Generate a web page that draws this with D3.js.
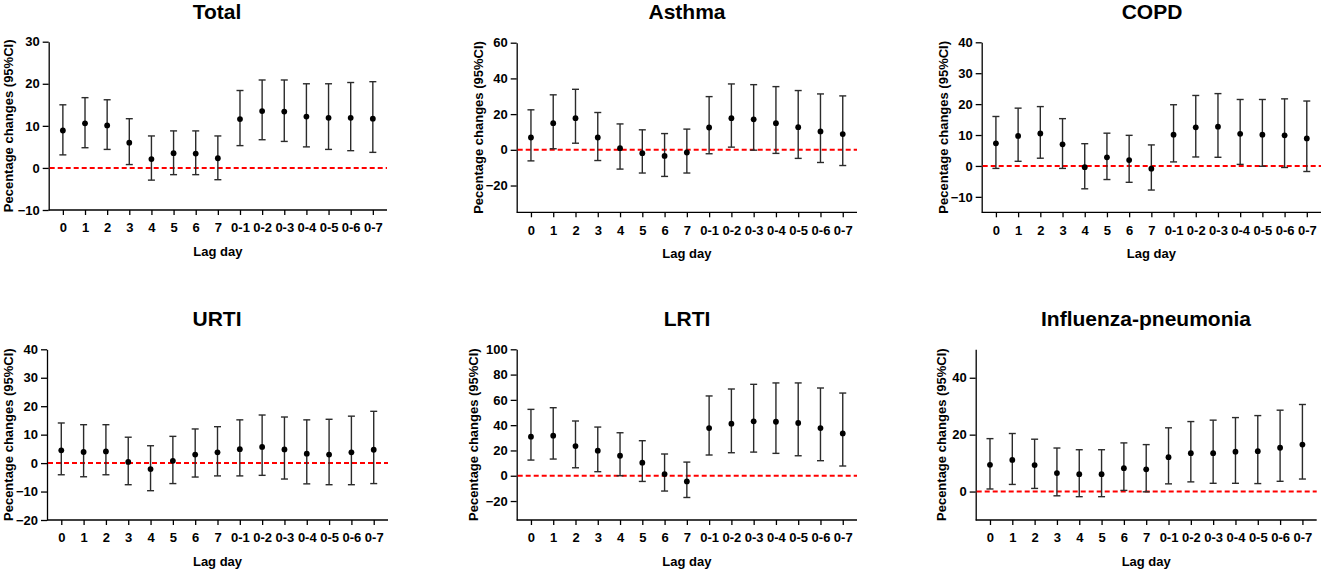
<!DOCTYPE html>
<html>
<head>
<meta charset="utf-8">
<script src="https://cdn.jsdelivr.net/npm/d3@7"></script>
<style>
  body { margin: 0; background: #fff; }
  svg { display: block; font-family: Arial, "Liberation Sans", sans-serif; }
  .tick text { font-size: 13px; font-weight: bold; fill: #000; }
  .domain, .tick line { stroke: #000; stroke-width: 1.3; }
</style>
</head>
<body>
<div id="chart"></div>
<script>
// lag categories (x axis)
const lags = ["0", "1", "2", "3", "4", "5", "6", "7", "0-1", "0-2", "0-3", "0-4", "0-5", "0-6", "0-7"];

// percentage change and 95% CI
const totalEst  = [8.9, 10.6, 10.1, 6.0, 2.1, 3.5, 3.4, 2.3, 11.6, 13.5, 13.4, 12.2, 11.9, 11.9, 11.7];
const totalLow  = [3.1, 4.8, 4.4, 0.8, -2.9, -1.6, -1.6, -2.8, 5.3, 6.7, 6.3, 5.0, 4.4, 4.1, 3.7];
const totalHigh = [15.0, 16.7, 16.2, 11.7, 7.6, 8.8, 8.8, 7.6, 18.4, 20.9, 20.9, 20.0, 20.0, 20.3, 20.5];

const asthmaEst  = [6.9, 14.9, 17.7, 6.9, 0.9, -1.9, -3.4, -1.5, 12.5, 17.7, 17.1, 14.9, 12.7, 10.3, 8.8];
const asthmaLow  = [-6.2, 0.6, 3.7, -6.0, -10.8, -13.0, -14.9, -13.0, -2.2, 1.5, -0.2, -2.0, -4.8, -7.1, -8.8];
const asthmaHigh = [22.4, 30.8, 33.9, 20.9, 14.5, 11.2, 9.1, 11.6, 29.8, 36.9, 36.5, 35.4, 33.2, 31.3, 30.2];

const copdEst  = [7.3, 9.7, 10.5, 7.0, -0.4, 2.8, 1.9, -0.9, 10.1, 12.5, 12.7, 10.4, 10.1, 9.9, 8.9];
const copdLow  = [-0.8, 1.5, 2.5, -0.8, -7.4, -4.4, -5.3, -7.8, 1.3, 2.9, 2.8, 0.5, -0.1, -0.5, -1.8];
const copdHigh = [16.0, 18.7, 19.2, 15.3, 7.2, 10.6, 9.9, 6.8, 19.8, 22.8, 23.4, 21.5, 21.5, 21.7, 21.0];

const urtiEst  = [4.5, 3.9, 4.1, 0.4, -2.1, 0.8, 3.0, 3.8, 4.9, 5.7, 4.8, 3.3, 3.0, 3.8, 4.7];
const urtiLow  = [-4.1, -4.8, -4.1, -7.6, -9.7, -7.2, -4.9, -4.5, -4.5, -4.3, -5.6, -7.3, -7.6, -7.6, -7.2];
const urtiHigh = [14.1, 13.5, 13.5, 9.1, 6.1, 9.4, 12.0, 12.8, 15.2, 16.9, 16.2, 15.2, 15.4, 16.5, 18.2];

const lrtiEst  = [30.9, 31.7, 23.5, 19.8, 15.8, 10.3, 1.3, -4.5, 37.7, 41.2, 43.0, 42.7, 41.7, 37.7, 33.5];
const lrtiLow  = [12.4, 13.2, 6.3, 3.2, 0.0, -4.5, -12.1, -17.2, 16.4, 18.2, 18.7, 17.7, 15.8, 11.9, 7.7];
const lrtiHigh = [52.5, 53.8, 43.3, 38.5, 34.0, 27.7, 17.2, 10.8, 63.1, 68.6, 72.3, 73.4, 73.4, 69.4, 65.4];

const fluEst  = [9.4, 11.1, 9.3, 6.5, 6.1, 6.1, 8.2, 7.8, 12.1, 13.5, 13.5, 14.0, 14.2, 15.4, 16.5];
const fluLow  = [0.9, 2.5, 1.1, -1.5, -1.8, -1.8, 0.4, -0.1, 2.7, 3.4, 2.9, 2.9, 2.8, 3.6, 4.4];
const fluHigh = [18.6, 20.4, 18.4, 15.3, 14.7, 14.7, 17.1, 16.5, 22.4, 24.6, 25.1, 26.0, 26.7, 28.6, 30.6];

// panel titles, y domains and y tick values
const titles = ["Total", "Asthma", "COPD", "URTI", "LRTI", "Influenza-pneumonia"];
const yDomains = [[-10, 30], [-35, 60], [-15, 40], [-20, 40], [-35, 100], [-10, 50]];
const yTicks = [
  [-10, 0, 10, 20, 30],
  [-20, 0, 20, 40, 60],
  [-10, 0, 10, 20, 30, 40],
  [-20, -10, 0, 10, 20, 30, 40],
  [-20, 0, 20, 40, 60, 80, 100],
  [0, 20, 40]
];
const series = [
  [totalEst, totalLow, totalHigh],
  [asthmaEst, asthmaLow, asthmaHigh],
  [copdEst, copdLow, copdHigh],
  [urtiEst, urtiLow, urtiHigh],
  [lrtiEst, lrtiLow, lrtiHigh],
  [fluEst, fluLow, fluHigh]
];

// panel boxes: left (y axis), top, right, bottom, title centre, y label x
const boxes = [
  { left: 48.7, top: 41.7, right: 387, bottom: 210, titleX: 217, titleY: 18.5, labX: 8.5 },
  { left: 516.7, top: 42.7, right: 857, bottom: 212.3, titleX: 687, titleY: 18.5, labX: 478 },
  { left: 981.7, top: 42.3, right: 1321, bottom: 212.3, titleX: 1152, titleY: 18.5, labX: 943 },
  { left: 47, top: 349.3, right: 388, bottom: 520, titleX: 217, titleY: 326, labX: 8.5 },
  { left: 516.7, top: 349.3, right: 857, bottom: 520, titleX: 687, titleY: 326, labX: 473.5 },
  { left: 975.7, top: 349.3, right: 1316.7, bottom: 520, titleX: 1146, titleY: 326, labX: 941 }
];

const svg = d3.select("#chart").append("svg")
  .attr("width", 1325)
  .attr("height", 570);

boxes.forEach((b, i) => {
  const [est, low, high] = series[i];
  const rows = lags.map((lag, j) => ({ lag, est: est[j], low: low[j], high: high[j] }));

  const x = d3.scalePoint()
    .domain(lags)
    .range([b.left, b.right])
    .padding(0.64);

  const y = d3.scaleLinear()
    .domain(yDomains[i])
    .range([b.bottom, b.top]);

  const g = svg.append("g");

  // title
  g.append("text")
    .attr("x", b.titleX)
    .attr("y", b.titleY)
    .attr("text-anchor", "middle")
    .style("font-size", "21px")
    .style("font-weight", "bold")
    .text(titles[i]);

  // axes
  g.append("g")
    .attr("transform", `translate(${b.left},0)`)
    .call(d3.axisLeft(y).tickValues(yTicks[i]).tickSize(6).tickPadding(3).tickSizeOuter(0));

  g.append("g")
    .attr("transform", `translate(0,${b.bottom})`)
    .call(d3.axisBottom(x).tickSize(5).tickPadding(8).tickSizeOuter(0))
    .call(a => a.select(".domain").attr("d", `M${b.left},0H${b.right}`));

  // reference line at zero
  g.append("line")
    .attr("x1", b.left + 1)
    .attr("x2", b.right)
    .attr("y1", y(0))
    .attr("y2", y(0))
    .attr("stroke", "#ff0000")
    .attr("stroke-width", 2)
    .attr("stroke-dasharray", "5,3");

  // error bars
  const bars = g.append("g")
    .selectAll(".bar")
    .data(rows)
    .enter()
    .append("g")
    .attr("class", "bar")
    .attr("stroke", "#2b2b2b")
    .attr("stroke-width", 1.4);

  bars.append("line")
    .attr("x1", d => x(d.lag))
    .attr("x2", d => x(d.lag))
    .attr("y1", d => y(d.low))
    .attr("y2", d => y(d.high));

  bars.append("line")
    .attr("x1", d => x(d.lag) - 3.5)
    .attr("x2", d => x(d.lag) + 3.5)
    .attr("y1", d => y(d.high))
    .attr("y2", d => y(d.high));

  bars.append("line")
    .attr("x1", d => x(d.lag) - 3.5)
    .attr("x2", d => x(d.lag) + 3.5)
    .attr("y1", d => y(d.low))
    .attr("y2", d => y(d.low));

  g.append("g")
    .selectAll("circle")
    .data(rows)
    .enter()
    .append("circle")
    .attr("cx", d => x(d.lag))
    .attr("cy", d => y(d.est))
    .attr("r", 2.9)
    .attr("fill", "#000");

  // axis labels
  g.append("text")
    .attr("x", (b.left + b.right) / 2)
    .attr("y", b.bottom + 46)
    .attr("text-anchor", "middle")
    .style("font-size", "13px")
    .style("font-weight", "bold")
    .text("Lag day");

  g.append("text")
    .attr("transform", `translate(${b.labX},${(b.top + b.bottom) / 2}) rotate(-90)`)
    .attr("text-anchor", "middle")
    .attr("dy", "0.35em")
    .style("font-size", "13px")
    .style("font-weight", "bold")
    .text("Pecentage changes (95%CI)");
});
</script>
</body>
</html>
